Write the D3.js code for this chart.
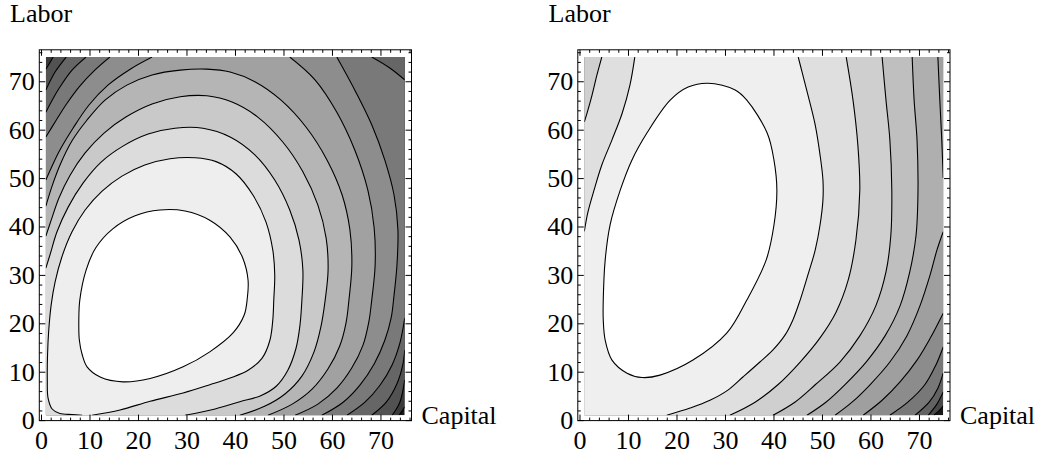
<!DOCTYPE html>
<html>
<head>
<meta charset="utf-8">
<script src="https://cdn.jsdelivr.net/npm/d3@7/dist/d3.min.js"></script>
<style>
  body { margin: 0; background: #fff; }
</style>
</head>
<body>
<svg id="canvas" width="1041" height="456"></svg>
<script>
// gray of each band, from the peak (white) outwards; each plot scales its own range
const leftShades = ["#ffffff", "#eeeeee", "#dcdcdc", "#c9c9c9", "#b5b5b5", "#a1a1a1",
                    "#8d8d8d", "#797979", "#666666", "#525252", "#3a3a3a", "#181818"];
const rightShades = ["#ffffff", "#efefef", "#dfdfdf", "#cfcfcf", "#bfbfbf", "#afafaf",
                     "#9f9f9f", "#8c8c8c", "#787878", "#626262", "#484848", "#181818"];

const majorTicks = [0, 10, 20, 30, 40, 50, 60, 70];
const minorTicks = [2, 4, 6, 8, 12, 14, 16, 18, 22, 24, 26, 28, 32, 34, 36, 38,
                    42, 44, 46, 48, 52, 54, 56, 58, 62, 64, 66, 68, 72, 74, 76];
const xLabel = "Capital";
const yLabel = "Labor";

// contour levels, inner one first. each level is a list of pieces of [capital, labor];
// an open piece runs border to border with the lighter side on its left
const leftContours = [
  [[[8.0,24.8],[7.8,20.7],[7.9,16.6],[8.5,13.5],[9.5,11.0],[12.2,8.9],[16.9,7.9],[22.5,8.6],[29.3,11.0],[34.8,14.1],[39.6,18.0],[41.9,21.7],[42.5,24.8],[42.7,28.9],[41.6,33.5],[39.0,37.8],[34.8,41.3],[29.7,43.2],[24.5,43.4],[19.4,42.2],[14.8,39.5],[11.3,35.6],[9.3,31.0]]],
  [[[10.5,1],[16.3,2.1],[22.5,3.9],[29.3,5.6],[34.8,7.3],[39.0,8.7],[42.7,10.3],[45.6,12.8],[47.2,16.5],[47.8,20.7],[48.0,24.8],[48.2,30.0],[47.8,35.1],[46.4,40.9],[43.7,46.5],[40.2,50.9],[36.1,53.4],[31.8,54.2],[26.6,54.0],[21.4,52.7],[16.7,50.4],[12.6,47.3],[9.1,43.4],[6.4,38.9],[4.3,33.7],[2.9,28.5],[2.1,23.8],[1.6,18.6],[1.35,13.5],[1.3,8.3],[1.45,4.6],[2.3,2.3],[3.9,1.35],[6.4,1.15],[8.5,1]]],
  [[[29.7,1],[35.9,2.3],[41.0,3.8],[45.2,5.0],[48.5,7.0],[50.9,10.3],[52.6,14.9],[53.4,19.6],[53.8,24.8],[54.0,31.0],[53.2,37.2],[51.3,43.4],[48.2,49.6],[44.1,54.8],[39.0,58.5],[33.4,60.3],[27.6,60.3],[22.1,59.1],[16.9,56.6],[12.4,53.3],[8.7,49.0],[5.6,44.0],[3.3,38.9],[1.9,34.3],[1,31.4]]],
  [[[41.0,1],[46.2,2.9],[50.3,5.4],[53.8,9.1],[56.3,14.1],[57.7,19.2],[58.6,24.8],[59.2,31.0],[58.8,37.6],[57.1,44.4],[54.0,51.3],[49.9,57.4],[44.7,62.6],[39.4,65.7],[34.2,67.0],[28.7,66.8],[22.9,65.3],[17.5,62.6],[13.0,59.3],[9.1,55.2],[6.0,50.6],[3.7,45.9],[2.1,41.3],[1,38.0]]],
  [[[46.8,1],[51.8,3.3],[55.9,6.4],[59.2,10.6],[61.6,15.3],[62.9,20.1],[63.5,24.8],[64.1,32.0],[63.7,39.3],[62.1,46.5],[59.0,53.7],[54.6,60.6],[49.5,66.1],[44.1,69.9],[39.0,71.9],[34.2,72.5],[28.7,72.3],[22.9,71.3],[17.7,69.2],[13.2,66.1],[9.5,62.0],[6.4,57.7],[4.1,53.1],[2.3,48.4],[1,44.2]]],
  [[[52.4,1],[57.1,3.3],[61.0,6.6],[64.1,10.8],[66.4,15.5],[67.6,20.3],[68.2,24.8],[68.9,32.0],[68.7,39.7],[67.4,47.5],[64.7,55.8],[61.0,63.6],[56.5,70.3],[51.3,75]],
   [[22.9,75],[18.4,72.5],[13.8,69.2],[9.9,65.1],[6.6,60.3],[3.9,55.8],[2.1,52.1],[1,49.6]]],
  [[[57.9,1],[62.3,3.7],[65.8,7.3],[68.7,11.6],[70.9,16.5],[72.2,21.1],[72.8,25.8],[73.4,32.0],[73.6,39.3],[72.8,46.5],[70.9,53.7],[68.2,61.0],[64.9,67.8],[61.0,75]],
   [[14.2,75],[11.1,72.3],[8.0,69.0],[5.4,65.5],[3.1,61.9],[1,58.5]]],
  [[[63.1,1],[66.8,3.7],[69.9,7.2],[72.4,11.4],[74.0,15.9],[75,21.1]],
   [[75,70.3],[72.0,72.7],[68.2,75]],
   [[9.3,75],[6.4,72.3],[3.9,68.8],[2.3,66.1],[1,63.6]]],
  [[[68.2,1],[71.2,3.7],[73.4,7.5],[74.6,11.4],[75,14.5]],
   [[5.2,75],[2.9,71.9],[1,68.2]]],
  [[[72.4,1],[74.0,3.7],[75,8.3]],
   [[2.5,75],[1.7,73.6],[1,72.5]]],
  [[[73.8,1],[74.4,1.8],[75,2.7]]]
];

const rightContours = [
  [[[26.5,69.6],[32.1,68.2],[34.5,66.1],[38.7,59.3],[40.1,53.7],[40.7,47.5],[40.1,40.3],[38.5,33.1],[34.5,24.8],[30.4,18.0],[23.4,12.4],[16.6,9.3],[12.9,8.8],[9.8,9.7],[6.7,12.4],[5.3,16.5],[4.9,20.7],[4.9,24.8],[5.3,33.1],[6.3,40.3],[8.4,47.5],[10.8,53.7],[13.9,59.3],[18.7,66.1],[22.4,68.8]]],
  [[[18.0,1],[22.8,2.5],[26.9,4.1],[30.6,6.2],[33.7,8.9],[37.2,12.0],[39.9,14.5],[42.4,17.6],[44.0,20.7],[45.5,24.8],[47.1,30.0],[48.6,35.1],[49.6,40.3],[50.2,45.5],[50.2,49.6],[49.6,54.8],[48.6,61.0],[47.1,67.2],[45.9,71.9],[45.1,75]],
   [[11.4,75],[10.4,69.2],[8.8,63.4],[6.7,57.9],[4.6,52.7],[3.0,47.5],[1.75,43.0],[1,39.0]]],
  [[[31.0,1],[36.2,3.7],[40.9,7.3],[45.5,12.0],[49.6,17.0],[52.9,22.3],[55.4,28.9],[57.0,37.2],[57.8,47.5],[57.4,56.8],[56.4,66.1],[55.0,75]],
   [[4.6,75],[3.6,71.3],[2.6,67.2],[1.75,64.1],[1,61.6]]],
  [[[39.9,1],[44.4,3.7],[48.6,7.3],[53.7,12.0],[57.8,17.4],[61.1,23.6],[63.2,30.6],[64.2,38.2],[64.4,47.5],[64.0,57.9],[63.2,66.1],[62.4,75]]],
  [[[46.9,1],[50.8,3.7],[54.7,7.3],[59.1,12.0],[63.0,17.4],[66.1,23.6],[68.1,30.6],[69.4,38.2],[69.8,47.5],[69.6,57.9],[69.0,66.1],[68.6,75]]],
  [[[52.7,1],[56.2,3.7],[59.9,7.3],[64.0,12.0],[67.5,17.4],[70.2,23.6],[72.3,30.0],[73.7,35.1],[75,38.9]],
   [[75,50.0],[74.7,57.9],[74.3,66.1],[73.9,75]]],
  [[[58.5,1],[62.4,4.1],[66.1,7.9],[69.6,12.4],[72.3,16.9],[75,22.1]]],
  [[[64.0,1],[67.7,3.7],[71.2,7.3],[73.5,11.4],[75,15.1]]],
  [[[69.2,1],[72.1,3.7],[73.9,6.6],[75,9.7]]],
  [[[71.9,1],[73.7,3.3],[75,5.8]]],
  [[[73.1,1],[74.1,1.9],[75,2.9]]]
];

const panels = [
  { left: 39.3, contours: leftContours, shades: leftShades },
  { left: 577.8, contours: rightContours, shades: rightShades }
];
const frameW = 372.2, frameTop = 49.8, frameBottom = 420.6;
const fontFamily = '"Liberation Serif", "Times New Roman", serif';

// plotted region of the function
const lo = 1, hi = 75, span = hi - lo;
const corners = [[lo, lo], [hi, lo], [hi, hi], [lo, hi]];
const near = (a, b) => Math.abs(a - b) < 1e-9;
const onEdge = p => near(p[0], lo) || near(p[0], hi) || near(p[1], lo) || near(p[1], hi);

// position along the border, counter-clockwise from the bottom left corner (0..4)
function edgeT(p) {
  if (near(p[1], lo)) return (p[0] - lo) / span;
  if (near(p[0], hi)) return 1 + (p[1] - lo) / span;
  if (near(p[1], hi)) return 2 + (hi - p[0]) / span;
  return 3 + (hi - p[1]) / span;
}

const svg = d3.select('#canvas');

panels.forEach((panel, pi) => {
  const x = d3.scaleLinear().domain([-0.35, 76.4]).range([panel.left, panel.left + frameW]);
  const y = d3.scaleLinear().domain([-0.1, 76.5]).range([frameBottom, frameTop]);
  const openLine = d3.line().x(d => x(d[0])).y(d => y(d[1])).curve(d3.curveCatmullRom);
  const ringLine = d3.line().x(d => x(d[0])).y(d => y(d[1])).curve(d3.curveCatmullRomClosed);
  const shades = panel.shades;

  // lighter side of one level: its pieces joined along the border
  function innerPath(pieces) {
    if (!onEdge(pieces[0][0])) return ringLine(pieces[0]);
    let path = '', cur = 0, guard = 0;
    do {
      const piece = pieces[cur];
      const seg = openLine(piece);
      path += path ? 'L' + seg.slice(1) : seg;
      const te = edgeT(piece[piece.length - 1]);
      let best = 0, bd = 9;
      pieces.forEach((q, i) => {
        const d = ((edgeT(q[0]) - te) % 4 + 4) % 4;
        if (d < bd) { bd = d; best = i; }
      });
      for (let k = Math.floor(te) + 1; k <= te + bd; k++) {
        const c = corners[k % 4];
        path += 'L' + x(c[0]) + ',' + y(c[1]);
      }
      cur = best;
    } while (cur !== 0 && ++guard < 10);
    return path + 'Z';
  }

  const g = svg.append('g');
  g.append('clipPath').attr('id', 'clip' + pi)
    .append('rect')
    .attr('x', x(lo)).attr('y', y(hi))
    .attr('width', x(hi) - x(lo)).attr('height', y(lo) - y(hi));

  const plot = g.append('g').attr('clip-path', `url(#clip${pi})`);
  plot.append('rect')
    .attr('x', x(lo)).attr('y', y(hi))
    .attr('width', x(hi) - x(lo)).attr('height', y(lo) - y(hi))
    .attr('fill', shades[shades.length - 1]);

  for (let k = panel.contours.length - 1; k >= 0; k--) {
    plot.append('path')
      .attr('d', innerPath(panel.contours[k]))
      .attr('fill', shades[k]);
  }

  panel.contours.forEach(level => level.forEach(piece => {
    plot.append('path')
      .attr('d', onEdge(piece[0]) ? openLine(piece) : ringLine(piece))
      .attr('fill', 'none')
      .attr('stroke', '#000')
      .attr('stroke-width', 1.1);
  }));

  // frame ticks point inwards
  const style = a => a.attr('font-family', fontFamily).attr('font-size', 26)
    .call(s => s.select('.domain').remove());

  g.append('g').attr('transform', `translate(0,${frameBottom})`)
    .call(d3.axisBottom(x).tickValues(majorTicks).tickSize(-6).tickPadding(10)).call(style);
  g.append('g').attr('transform', `translate(0,${frameBottom})`)
    .call(d3.axisBottom(x).tickValues(minorTicks).tickSize(-3).tickFormat('')).call(style);
  g.append('g').attr('transform', `translate(${panel.left},0)`)
    .call(d3.axisLeft(y).tickValues(majorTicks).tickSize(-6).tickPadding(4.5)).call(style);
  g.append('g').attr('transform', `translate(${panel.left},0)`)
    .call(d3.axisLeft(y).tickValues(minorTicks).tickSize(-3).tickFormat('')).call(style);
  g.append('g').attr('transform', `translate(0,${frameTop})`)
    .call(d3.axisTop(x).tickValues(majorTicks).tickSize(-6).tickFormat('')).call(style);
  g.append('g').attr('transform', `translate(0,${frameTop})`)
    .call(d3.axisTop(x).tickValues(minorTicks).tickSize(-3).tickFormat('')).call(style);
  g.append('g').attr('transform', `translate(${panel.left + frameW},0)`)
    .call(d3.axisRight(y).tickValues(majorTicks).tickSize(-6).tickFormat('')).call(style);
  g.append('g').attr('transform', `translate(${panel.left + frameW},0)`)
    .call(d3.axisRight(y).tickValues(minorTicks).tickSize(-3).tickFormat('')).call(style);

  g.append('rect')
    .attr('x', panel.left).attr('y', frameTop)
    .attr('width', frameW).attr('height', frameBottom - frameTop)
    .attr('fill', 'none').attr('stroke', '#000').attr('stroke-width', 1);

  g.append('text')
    .attr('x', panel.left - 29.3).attr('y', 22)
    .attr('font-family', fontFamily).attr('font-size', 26)
    .text(yLabel);
  g.append('text')
    .attr('x', panel.left + frameW + 10).attr('y', 424)
    .attr('font-family', fontFamily).attr('font-size', 26)
    .text(xLabel);
});
</script>
</body>
</html>
